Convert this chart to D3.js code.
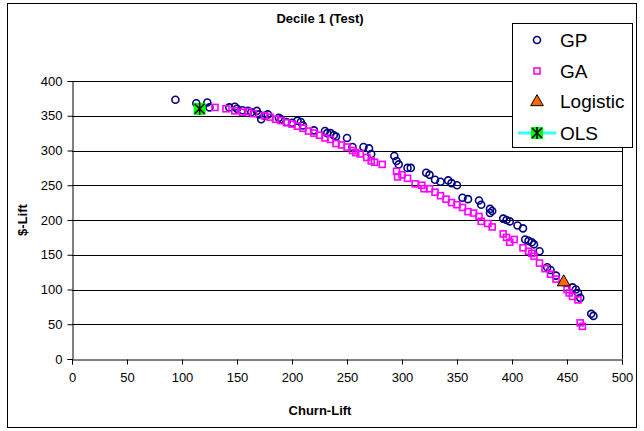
<!DOCTYPE html>
<html>
<head>
<meta charset="utf-8">
<script src="https://cdn.jsdelivr.net/npm/d3@7"></script>
<style>
  body { margin: 0; background: #fff; }
  svg { font-family: Arial, "Liberation Sans", sans-serif; }
</style>
</head>
<body>
<div id="main"></div>
<script>
// GP points: [churn-lift, $-lift]
const gpData = [
  [94, 373], [113, 368], [116, 362], [123, 369], [125, 362],
  [143, 362], [148, 363], [150, 360], [155, 358], [160, 357], [163, 355], [168, 357],
  [170, 352], [172, 345], [175, 350], [178, 352],
  [188, 347], [190, 345], [195, 341], [200, 340], [205, 343], [208, 341], [210, 336],
  [220, 329], [230, 328], [232, 325], [235, 325], [238, 322], [240, 320],
  [250, 318], [255, 305], [265, 305], [270, 303], [272, 295],
  [293, 292], [295, 285], [297, 280], [305, 275], [308, 275],
  [322, 268], [325, 265], [330, 258], [335, 255],
  [342, 257], [345, 253], [350, 250],
  [355, 232], [360, 230], [370, 228], [372, 222],
  [380, 216], [382, 213], [380, 210],
  [392, 202], [395, 200], [398, 198], [405, 192], [410, 188],
  [412, 172], [415, 170], [418, 168], [420, 165],
  [425, 155], [432, 132], [435, 128], [440, 120],
  [455, 103], [458, 100], [460, 95], [462, 88],
  [472, 65], [474, 62]
]

// GA points
const gaData = [
  [130, 362], [140, 360], [148, 357], [155, 355], [160, 356], [165, 353],
  [175, 350], [180, 348], [185, 345], [190, 343], [195, 340], [200, 338],
  [205, 335], [210, 332], [215, 328], [220, 325], [225, 322], [230, 318], [235, 316],
  [240, 310], [245, 308], [250, 305], [255, 300], [258, 297], [262, 295],
  [268, 290], [272, 285], [275, 283], [282, 280],
  [295, 270], [296, 262], [300, 265], [305, 260],
  [312, 252], [318, 250], [320, 245], [325, 245],
  [330, 240], [335, 235], [340, 230], [345, 225], [350, 222], [355, 218],
  [360, 212], [365, 210], [370, 205],
  [372, 198], [378, 195], [382, 190],
  [392, 180], [395, 175], [398, 168], [402, 172],
  [410, 160], [415, 155], [418, 152], [420, 148], [425, 138],
  [430, 130], [435, 122], [440, 115],
  [450, 100], [452, 95], [455, 90], [460, 85], [462, 52], [464, 47]
]

const logisticData = [[447, 112]]
const olsData = [[116, 360]]

const xTicks = [0, 50, 100, 150, 200, 250, 300, 350, 400, 450, 500]
const yTicks = [0, 50, 100, 150, 200, 250, 300, 350, 400]
const legendNames = ['GP', 'GA', 'Logistic', 'OLS']

const width = 644
const height = 431
const margin = { top: 81, right: 22, bottom: 72, left: 72 }

const svg = d3.select('#main').append('svg')
  .attr('width', width)
  .attr('height', height)

// outer chart border
svg.append('rect')
  .attr('x', 7.5).attr('y', 3.5)
  .attr('width', 629).attr('height', 424)
  .attr('fill', '#fff')
  .attr('stroke', '#000')

const x = d3.scaleLinear().domain([0, 500]).range([margin.left, width - margin.right])
const y = d3.scaleLinear().domain([0, 400]).range([height - margin.bottom, margin.top])

// gridlines
svg.append('g')
  .selectAll('line')
  .data(yTicks.slice(1))
  .enter().append('line')
  .attr('x1', x(0)).attr('x2', x(500))
  .attr('y1', d => Math.round(y(d)) + 0.5).attr('y2', d => Math.round(y(d)) + 0.5)
  .attr('stroke', '#000')

// right edge of plot area
svg.append('line')
  .attr('x1', Math.round(x(500)) + 0.5).attr('x2', Math.round(x(500)) + 0.5)
  .attr('y1', y(0)).attr('y2', y(400))
  .attr('stroke', '#000')

// axes
const xAxis = svg.append('g')
  .attr('transform', `translate(0,${Math.round(y(0)) + 0.5})`)
  .call(d3.axisBottom(x).tickValues(xTicks).tickSize(5).tickPadding(8))
const yAxis = svg.append('g')
  .attr('transform', `translate(${Math.round(x(0)) + 0.5},0)`)
  .call(d3.axisLeft(y).tickValues(yTicks).tickSize(5).tickPadding(5))

;[xAxis, yAxis].forEach(a => {
  a.select('.domain').attr('stroke', '#000')
  a.selectAll('.tick line').attr('stroke', '#000')
  a.selectAll('.tick text')
    .attr('font-size', 13)
    .attr('font-family', 'Arial, "Liberation Sans", sans-serif')
    .attr('fill', '#000')
})

// titles
svg.append('text')
  .attr('x', 320).attr('y', 23)
  .attr('text-anchor', 'middle')
  .attr('font-size', 13).attr('font-weight', 'bold')
  .text('Decile 1 (Test)')

svg.append('text')
  .attr('x', 320).attr('y', 415)
  .attr('text-anchor', 'middle')
  .attr('font-size', 13).attr('font-weight', 'bold')
  .text('Churn-Lift')

svg.append('text')
  .attr('transform', 'translate(27,220) rotate(-90)')
  .attr('text-anchor', 'middle')
  .attr('font-size', 13).attr('font-weight', 'bold')
  .text('$-Lift')

// marker drawers
const drawGP = (g) => g.append('circle').attr('r', 3.5)
  .attr('fill', 'none').attr('stroke', '#000080').attr('stroke-width', 1.6)
const drawGA = (g) => g.append('rect').attr('x', -3).attr('y', -3).attr('width', 6).attr('height', 6)
  .attr('fill', 'none').attr('stroke', '#ff00ff').attr('stroke-width', 1.6)
const drawLogistic = (g) => g.append('path')
  .attr('d', d3.symbol(d3.symbolTriangle, 70)())
  .attr('transform', 'translate(0,1)')
  .attr('fill', '#ff6600').attr('stroke', '#000').attr('stroke-width', 1)
const drawOLS = (g) => {
  g.append('rect').attr('x', -6).attr('y', -6).attr('width', 12).attr('height', 12)
    .attr('fill', '#00ff00')
  g.append('path').attr('d', 'M-5,-5L5,5M5,-5L-5,5M0,-6L0,6')
    .attr('stroke', '#000').attr('stroke-width', 1.5)
}

const series = [
  { data: gpData, draw: drawGP },
  { data: gaData, draw: drawGA },
  { data: logisticData, draw: drawLogistic },
  { data: olsData, draw: drawOLS }
]

series.forEach(s => {
  svg.append('g')
    .selectAll('g')
    .data(s.data)
    .enter().append('g')
    .attr('transform', d => `translate(${x(d[0])},${y(d[1])})`)
    .each(function () { s.draw(d3.select(this)) })
})

// legend
const legend = svg.append('g')
legend.append('rect')
  .attr('x', 512.5).attr('y', 23.5)
  .attr('width', 120).attr('height', 124)
  .attr('fill', '#fff').attr('stroke', '#000')

const legendY = [40, 71, 101, 133]
legend.append('line')
  .attr('x1', 518).attr('x2', 556)
  .attr('y1', legendY[3]).attr('y2', legendY[3])
  .attr('stroke', '#33ffff').attr('stroke-width', 3)

legendNames.forEach((name, i) => {
  const g = legend.append('g').attr('transform', `translate(537,${legendY[i]})`)
  series[i].draw(g)
  legend.append('text')
    .attr('x', 560).attr('y', legendY[i])
    .attr('dy', '0.35em')
    .attr('font-size', 19)
    .text(name)
})
</script>
</body>
</html>
